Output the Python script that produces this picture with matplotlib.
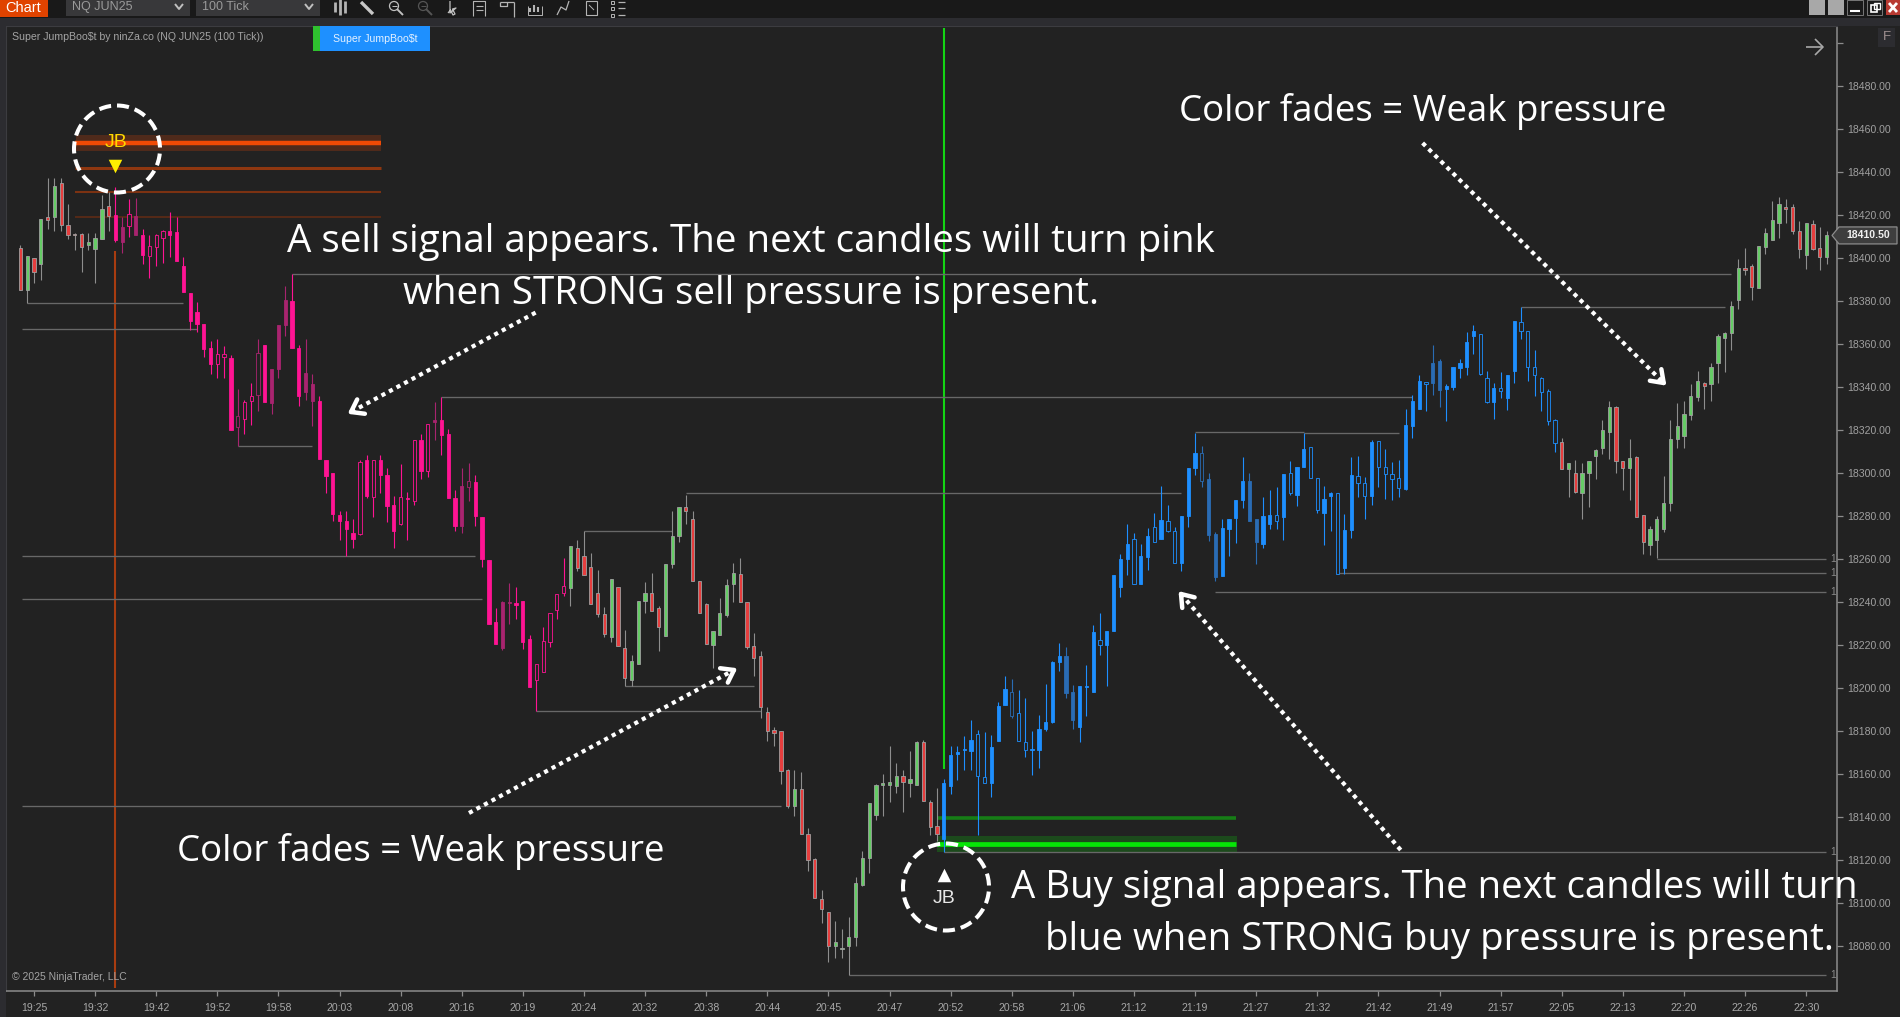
import numpy as np
import matplotlib
matplotlib.use("Agg")
import matplotlib.pyplot as plt
from matplotlib.patches import Rectangle, Ellipse, Polygon

W, H = 1900, 1017
BG = "#222222"
UI = ["Liberation Sans", "DejaVu Sans"]
CAP = ["Open Sans", "DejaVu Sans"]

opens = [
    18404.5,18385,18400,18397,18419,18419,18435,18415.5,18411,18411,
    18406,18404,18409,18424,18420,18414.5,18415,18419.5,18410.5,18401,
    18405,18409.5,18412.5,18412,18396.5,18383.5,18375,18369.5,18358,18350.5,
    18354,18353.5,18321.5,18325,18333.5,18336.5,18359.5,18348.5,18369,18380.5,
    18380,18358,18346.5,18341.5,18333.5,18306,18300,18280.5,18277.5,18272,
    18271.5,18306,18289,18306,18299,18285,18276.5,18288.5,18287,18315.5,
    18301,18324.5,18324.5,18318,18288.5,18294,18293.5,18296,18279.5,18259.5,
    18230.5,18240,18240,18239.5,18240.5,18223,18203.5,18207.5,18221.5,18236.5,
    18244,18246.5,18265,18261.5,18256.5,18244,18234.5,18223.5,18247,18218.5,
    18203.5,18211,18240.5,18244,18237,18224,18257.5,18270.5,18284,18278.5,
    18250,18239,18220,18224.5,18234,18248.5,18253,18240,18219.5,18215,
    18189,18180.5,18180,18162,18145,18153,18132,18120.5,18102,18096,
    18080,18078.5,18080,18084,18108.5,18121,18141,18155,18155,18154.5,
    18159,18156,18155,18175,18147,18136,18130,18154.5,18169.5,18171,
    18170.5,18178.5,18158.5,18156,18175.5,18192,18198,18188.5,18175,18171,
    18171,18181,18184,18212,18197.5,18185,18182,18200.5,18198,18222.5,
    18220,18226.5,18247,18260,18269.5,18248.5,18261,18275,18269.5,18277.5,
    18273,18258,18280,18302.5,18309.5,18271,18251.5,18252,18274,18279,
    18287.5,18277.5,18268,18267,18276.5,18280.5,18279.5,18300,18290,18303,
    18312,18297.5,18281.5,18289.5,18290.5,18256,18273.5,18298.5,18295.5,18289.5,
    18315,18303,18299.5,18297.5,18292.5,18322,18330,18342,18342,18338.5,
    18339,18340,18349,18349.5,18363.5,18364.5,18344,18333,18339.5,18335,
    18347.5,18370,18366,18349.5,18344,18338,18324.5,18314.5,18302,18300,
    18290.5,18300,18308,18311.5,18319,18330.5,18305.5,18302.5,18307.5,18280.5,
    18266.5,18269,18274,18286,18316,18317,18327,18335.5,18342,18341.5,
    18351,18363,18365,18380.5,18395.5,18396.5,18386,18405,18408.5,18416.5,
    18423.5,18423.5,18412.5,18401.5,18416,18404.5,18400.5,
]
closes = [
    18385,18401,18393.5,18418,18417.5,18433.5,18415.5,18410.5,18410.5,18405,
    18407.5,18409.5,18423,18419.5,18408.5,18407.5,18420.5,18410.5,18401.5,18405.5,
    18410.5,18412.5,18410.5,18398.5,18384,18370.5,18369.5,18357.5,18350.5,18355.5,
    18355.5,18320,18326.5,18333,18336,18356,18333,18332.5,18348.5,18369,
    18358,18336,18337.5,18333.5,18306.5,18298.5,18281,18277.5,18274,18269.5,
    18305,18289.5,18306,18299,18284.5,18273,18289,18288,18315.5,18301,
    18323,18323.5,18317.5,18288.5,18275.5,18275.5,18296.5,18280,18260,18230,
    18220.5,18218.5,18239.5,18238.5,18221.5,18200.5,18211,18222,18235,18243.5,
    18247.5,18266,18256,18252.5,18239,18234.5,18225,18250.5,18219.5,18204.5,
    18212.5,18240.5,18244,18236,18228.5,18257.5,18270.5,18284,18282.5,18250,
    18235,18220.5,18226.5,18235,18248,18253.5,18240,18219,18214,18191,
    18180,18179,18161.5,18145,18153,18132,18120,18102.5,18097,18080,
    18082,18079,18084,18109.5,18121,18146.5,18155,18155.5,18156.5,18159,
    18156.5,18157.5,18175,18147.5,18135.5,18132,18156,18169,18170,18171.5,
    18176,18159,18156,18172.5,18191.5,18199.5,18187,18175.5,18171,18171.5,
    18181,18184,18212,18215,18215,18198,18201,18201,18226,18220,
    18226.5,18252.5,18260,18267,18248.5,18261.5,18270.5,18268,18278,18273,
    18258,18280,18302.5,18309.5,18296.5,18297,18271.5,18274.5,18278.5,18287.5,
    18296.5,18296.5,18278.5,18280,18280.5,18277.5,18299.5,18290.5,18303,18311,
    18297.5,18283,18288,18290.5,18253,18273.5,18299,18295.5,18289.5,18314.5,
    18303,18299.5,18297,18293,18322.5,18333.5,18343,18341.5,18351,18352,
    18340.5,18349.5,18351,18361,18366,18346,18333,18339.5,18338,18345.5,
    18370.5,18366,18349.5,18345.5,18337.5,18324,18314,18302,18304.5,18291,
    18300,18305.5,18310.5,18320,18330.5,18305.5,18302.5,18307,18279.5,18268,
    18274,18278.5,18286,18316,18322,18327.5,18336,18343,18340.5,18349.5,
    18363.5,18365,18377.5,18395.5,18394.5,18386.5,18405.5,18411.5,18417.5,18425,
    18423,18412.5,18404,18416.5,18404,18400.5,18410.5,
]
highs = [
    18406,18401,18400,18418,18437,18437,18437,18425,18411.5,18411.5,
    18411.5,18411.5,18429.5,18430.5,18433,18419,18427.5,18428,18413.5,18410.5,
    18411,18413,18421.5,18419,18400.5,18383.5,18379.5,18369.5,18361.5,18362.5,
    18359,18355,18339,18334,18342,18362.5,18359.5,18348.5,18369,18387,
    18392.5,18359.5,18362.5,18346,18336,18306,18300,18282.5,18282.5,18278.5,
    18306,18308.5,18306,18308.5,18302.5,18289.5,18304,18291,18315.5,18318,
    18323,18333,18335.5,18320.5,18292,18302.5,18304.5,18299,18279.5,18259.5,
    18237,18240.5,18249,18247,18240.5,18224.5,18211,18228.5,18235,18243.5,
    18260.5,18266,18269,18273,18263,18255,18237.5,18250.5,18247,18227,
    18215.5,18240.5,18249.5,18253.5,18238,18257.5,18282.5,18284,18290,18282.5,
    18250,18239.5,18226.5,18242,18250.5,18258,18260.5,18240,18225.5,18217,
    18191,18182,18180,18162.5,18162,18161,18135,18121,18106,18096,
    18091.5,18088,18093.5,18112,18124,18146.5,18155.5,18160,18173,18165,
    18162,18170.5,18175.5,18176,18148,18153.5,18157.5,18173,18173,18177.5,
    18185,18180.5,18179.5,18178,18193.5,18205.5,18204,18199,18195.5,18180,
    18187.5,18202,18212.5,18221,18219,18201.5,18201,18210.5,18229.5,18235,
    18226.5,18252.5,18262.5,18276.5,18272,18267,18274.5,18281.5,18294,18285,
    18275,18280,18302.5,18318.5,18312.5,18300,18272.5,18278.5,18278.5,18287.5,
    18307.5,18300,18278.5,18289,18292,18293.5,18299.5,18305.5,18303,18318.5,
    18312,18297.5,18294,18291,18290.5,18281,18307.5,18308,18298,18315.5,
    18315,18311,18305,18306,18330,18336.5,18345.5,18342,18359.5,18353,
    18341.5,18349.5,18353,18365.5,18369,18364.5,18347.5,18342,18347,18345.5,
    18370.5,18377,18366,18357,18344.5,18339,18325,18316.5,18304.5,18306,
    18304.5,18305.5,18311,18324.5,18333.5,18331,18305.5,18316,18308,18280.5,
    18275.5,18280,18298.5,18324.5,18332.5,18333.5,18341.5,18347.5,18342.5,18351,
    18364.5,18365.5,18380,18399.5,18404.5,18397,18405.5,18414,18426.5,18428.5,
    18427.5,18425,18417,18416.5,18417.5,18414.5,18412.5,
]
lows = [
    18385,18379,18388.5,18390,18413.5,18412.5,18412.5,18409,18403.5,18393.5,
    18403.5,18388.5,18409,18412.5,18407.5,18402.5,18410,18410.5,18397,18390.5,
    18396.5,18397.5,18400.5,18398.5,18384,18366.5,18365.5,18354,18346,18344,
    18344,18320,18312.5,18318,18322.5,18329,18333,18327.5,18344,18363.5,
    18358,18331,18334,18322,18306.5,18290.5,18277.5,18269,18261.5,18265,
    18271,18288.5,18279.5,18290.5,18277,18265,18276,18269,18285,18297,
    18298,18315.5,18308.5,18288.5,18273,18272,18287,18275.5,18256.5,18230,
    18220.5,18217.5,18230,18232,18218,18200.5,18189.5,18207.5,18219,18232,
    18243,18238,18254.5,18252.5,18239,18233,18223.5,18221.5,18219.5,18201,
    18201,18211,18235,18236,18217,18224,18256,18268,18276.5,18250,
    18235,18220.5,18209.5,18224.5,18233,18240,18240,18218,18205.5,18186,
    18175.5,18173,18155.5,18144,18140.5,18132,18115,18102.5,18090.5,18072.5,
    18074.5,18074.5,18066.5,18080,18108,18114,18138.5,18140.5,18147,18151,
    18142.5,18149.5,18155,18147.5,18131.5,18129,18123.5,18150.5,18157,18162,
    18162,18131.5,18156,18149.5,18175.5,18192,18186,18175.5,18168,18159.5,
    18163,18180,18183.5,18208,18195.5,18181,18175,18187,18198,18215.5,
    18201,18226.5,18242.5,18252.5,18248.5,18248.5,18255,18268,18269.5,18272.5,
    18258,18254.5,18275,18299,18293.5,18268.5,18250,18252,18261.5,18267.5,
    18283.5,18277.5,18257.5,18265,18274,18274,18269,18290,18284.5,18303,
    18297.5,18281.5,18266.5,18273,18253,18253,18270,18289,18278.5,18285,
    18293.5,18288,18287.5,18289,18292,18316.5,18330,18329,18336.5,18330.5,
    18324,18338.5,18344,18345.5,18355.5,18345.5,18332.5,18325,18335,18329.5,
    18342,18362.5,18343,18336,18329,18322.5,18310,18302,18289,18290.5,
    18278.5,18284,18297,18309,18306.5,18300,18292,18287.5,18279.5,18262.5,
    18262,18260.5,18272.5,18282.5,18311.5,18311.5,18324.5,18333.5,18330,18333.5,
    18342,18347,18357,18376.5,18392,18380.5,18386,18402,18408.5,18409.5,
    18416.5,18411,18400,18395,18403.5,18394.5,18397.3,
]

# Bars carrying a trend colour, and the faded ones inside those stretches
sell_bars = range(14, 81)
buy_bars = range(136, 227)
faded_bars = [15, 17, 32, 35, 37, 38, 39, 42, 43, 61, 65, 66, 71, 72,
              146, 154, 155, 174, 175, 176, 181, 182, 208, 209]

# Swing levels: price, first bar, last bar
swing_levels = [18379, 18367, 18312.5, 18261.5, 18241.6, 18189.5, 18201, 18273,
                18290.5, 18392.7, 18335.5, 18318.9, 18318.5, 18244.5, 18253.3,
                18260, 18377, 18145, 18123.5, 18066.5]
swing_start = [1, 0.2, 32, 0.2, 0.2, 76, 89, 83, 98, 40, 62, 173, 189, 176, 194,
               241, 221, 0.2, 136, 122]
swing_end = [24, 26, 43, 67, 68, 109, 108, 96, 171, 252, 205, 189, 203, 265.9,
             265.9, 265.9, 251, 112, 265.9, 265.9]
open_levels = [18260, 18253.3, 18244.5, 18123.5, 18066.5]

# Signal zones
sell_zone_lines = [18453.4, 18441.9, 18430.7, 18419.2]
buy_zone_lines = [18127.4, 18139.5]
sell_signal_bar, buy_signal_bar = 14, 136

price_ticks = list(range(18080, 18481, 20))
time_labels = ["19:25", "19:32", "19:42", "19:52", "19:58", "20:03", "20:08", "20:16",
               "20:19", "20:24", "20:32", "20:38", "20:44", "20:45", "20:47", "20:52",
               "20:58", "21:06", "21:12", "21:19", "21:27", "21:32", "21:42", "21:49",
               "21:57", "22:05", "22:13", "22:20", "22:26", "22:30"]
last_price = closes[-1]

fig = plt.figure(figsize=(W / 100, H / 100), dpi=100, facecolor=BG)

left, right, top, bottom = 6, 1837, 26, 990.7
ax = fig.add_axes([left / W, (H - bottom) / H, (right - left) / W, (bottom - top) / H], facecolor=BG)
ax.set_xlim((left - 20.4) / 6.79, (right - 20.4) / 6.79)
ax.set_ylim(18480 - (bottom - 86) / 2.15, 18480 + (86 - top) / 2.15)

for side in ("top", "left"):
    ax.spines[side].set_color("#3c3c40")
    ax.spines[side].set_linewidth(0.8)
for side in ("right", "bottom"):
    ax.spines[side].set_color("#8c8c8c")
    ax.spines[side].set_linewidth(1.1)

ax.yaxis.tick_right()
ax.set_yticks(price_ticks + [18500], [f"{p:.2f}" for p in price_ticks] + [""])
ax.set_xticks([2 + 9 * k for k in range(len(time_labels))], time_labels)
ax.tick_params(axis="y", length=4.3, width=0.9, color="#8c8c8c", labelcolor="#a0a0a0",
               labelsize=7.6, pad=3)
ax.tick_params(axis="x", length=3.6, width=0.9, color="#8c8c8c", labelcolor="#a8a8a8",
               labelsize=7.6, pad=5)
for t in ax.get_xticklabels() + ax.get_yticklabels():
    t.set_fontfamily(UI)

# Signal zones
ax.axhspan(18449.8, 18457.2, xmin=(75.5 - left) / (right - left), xmax=(381 - left) / (right - left),
           color="#4f2a1b", lw=0, zorder=1)
ax.hlines(sell_zone_lines[0], 8.1, 53.1, color="#f04a05", lw=3.2, zorder=2)
ax.hlines(sell_zone_lines[1], 8.1, 53.1, color="#8f3710", lw=2.2, zorder=2)
ax.hlines(sell_zone_lines[2], 8.1, 53.1, color="#7c3212", lw=1.5, zorder=2)
ax.hlines(sell_zone_lines[3], 8.1, 53.1, color="#5a2a16", lw=1.3, zorder=2)
ax.axhspan(18123.7, 18131.2, xmin=(936.7 - left) / (right - left), xmax=(1236.7 - left) / (right - left),
           color="#1c4a1c", lw=0, zorder=1)
ax.hlines(buy_zone_lines[1], 135, 179.1, color="#167d16", lw=2.6, zorder=2)
ax.hlines(buy_zone_lines[0], 135, 179.1, color="#06e606", lw=3.4, zorder=2)

# Signal verticals
ax.vlines(sell_signal_bar, 18060.5, 18403.3, color="#a83c10", lw=1.5, zorder=2)
ax.vlines(buy_signal_bar, 18162.5, 18507, color="#14d414", lw=1.5, zorder=2)

# Swing lines
ax.hlines(swing_levels, swing_start, swing_end, color="#686868", lw=0.95, zorder=3)
for lv in open_levels:
    ax.text(266.5, lv, "1", color="#8a8a8a", fontsize=7.4, family=UI, ha="left", va="center")

# Candles
PINK, BLUE, GREEN, RED = "#ff1493", "#1e8fff", "#66cc66", "#e63e3e"
PINK_DIM, BLUE_DIM = "#a8246f", "#2a6cb4"
n = len(opens)
idx = np.arange(n)
o, c, hi, lo = map(np.array, (opens, closes, highs, lows))
faces, edges, wicks = [], [], []
for i in idx:
    faded = i in faded_bars
    up = c[i] >= o[i]
    if i in sell_bars:
        col = PINK_DIM if faded else PINK
        faces.append(BG if up else col)
        edges.append(col)
        wicks.append(col)
    elif i in buy_bars:
        col = BLUE_DIM if faded else BLUE
        faces.append(col if up else BG)
        edges.append(col)
        wicks.append(col)
    else:
        faces.append(GREEN if up else RED)
        edges.append("#a0a0a0")
        wicks.append("#8e8e8e")

ax.vlines(idx, lo, hi, colors=wicks, lw=0.8, zorder=4)
body_low = np.minimum(o, c)
body_h = np.maximum(np.abs(c - o), 0.6)
ax.bar(idx, body_h, bottom=body_low, width=0.48, color=faces, edgecolor=edges, linewidth=0.6, zorder=5)

# Signal markers on the price scale
ax.scatter([sell_signal_bar], [18443], marker="v", s=95, color="#ffee00", lw=0, zorder=6)
ax.scatter([buy_signal_bar], [18113], marker="^", s=95, color="#ffffff", lw=0, zorder=6)
ax.text(sell_signal_bar + 0.1, 18453.5, "JB", color="#ffd800", fontsize=14, family=UI,
        ha="center", va="center", zorder=6)
ax.text(buy_signal_bar, 18102, "JB", color="#e8e8e8", fontsize=14, family=UI,
        ha="center", va="center", zorder=6)

# Overlay in canvas pixels for window furniture and callouts
ov = fig.add_axes([0, 0, 1, 1], facecolor="none")
ov.set_xlim(0, W)
ov.set_ylim(H, 0)
ov.axis("off")


def box(x0, y0, x1, y1, color, **kw):
    ov.add_patch(Rectangle((x0, y0), x1 - x0, y1 - y0, facecolor=color, edgecolor=kw.pop("edge", "none"), lw=kw.pop("lw", 0), **kw))


def seg(xs, ys, color="#b4b4b4", lw=1.0, **kw):
    ov.plot(xs, ys, color=color, lw=lw, solid_capstyle=kw.pop("cap", "butt"), **kw)


# Frame and toolbar strips
box(0, 0, W, 17.5, "#191919")
box(0, 17.5, W, 25.5, "#2c2c30")
box(0, 17.5, 6, H, "#2c2c30")
box(0, 0, 47.7, 16.5, "#e04300")
ov.text(5, 7.5, "Chart", color="white", fontsize=10.5, family=UI, va="center")
for x0, x1, label in ((66, 190, "NQ JUN25"), (196, 320, "100 Tick")):
    box(x0, 0, x1, 15.5, "#38383a")
    ov.text(x0 + 6, 7, label, color="#9a9a9a", fontsize=9, family=UI, va="center")
    seg([x1 - 15, x1 - 11, x1 - 7], [4, 9, 4], color="#c0c0c0", lw=1.4)

# Toolbar glyphs
for x, hs in ((335, 5), (340, 8), (345, 6)):
    seg([x, x], [7 - hs, 7 + hs], lw=2)
seg([361, 373], [2, 14], lw=2.4, color="#c8c8c8")
for cx, col in ((394, "#c0c0c0"), (423, "#555555")):
    ov.add_patch(Ellipse((cx, 6), 9, 9, fill=False, edgecolor=col, lw=0.9))
    seg([cx - 2.5, cx + 2.5], [6, 6], color=col, lw=0.7)
    seg([cx + 3, cx + 9], [9, 15], color=col, lw=1.4)
seg([450, 450, 456, 452.5, 455, 453, 450.5, 448], [1, 13, 8, 9, 14, 15, 10, 13], color="#c0c0c0", lw=0.9)
seg([473, 473, 485, 485], [16, 1, 1, 16], lw=0.8)
for yy in (6, 10):
    seg([476, 483], [yy, yy], lw=0.8)
seg([500, 514], [2, 2], lw=0.9)
seg([500, 500, 507, 507], [2, 6, 6, 2], lw=0.9)
seg([514, 514], [2, 17], lw=0.9)
for x, hs in ((530, 4), (534, 7), (538, 5)):
    seg([x, x], [12 - hs, 12], lw=1.5)
seg([528, 528, 542, 542], [6, 15, 15, 6], lw=0.7)
seg([557, 561, 566, 569], [15, 7, 10, 1], lw=0.9)
box(586, 1, 597, 15, "none", edge="#b4b4b4", lw=0.8)
seg([589, 594], [5, 10], lw=0.7)
for yy in (2, 8, 15):
    box(611, yy - 1.5, 614, yy + 1.5, "none", edge="#b4b4b4", lw=0.7)
    seg([618, 625], [yy, yy], lw=0.9)

# Window buttons
box(1809, 0, 1825, 15, "#a8a8a8")
box(1828, 0, 1844, 15, "#a8a8a8")
box(1847, 0, 1863, 15, "#1a1a1a", edge="#777777", lw=0.7)
seg([1850, 1860], [11, 11], color="white", lw=1.5)
box(1867, 0, 1882, 15, "#1a1a1a", edge="#777777", lw=0.7)
box(1871, 5, 1877, 12, "none", edge="white", lw=1.2)
box(1874, 3, 1880, 9, "none", edge="white", lw=1.0)
box(1886, 0, 1900, 15, "#b83a32")
seg([1889, 1897], [3, 12], color="white", lw=2)
seg([1897, 1889], [3, 12], color="white", lw=2)

# Chart header
ov.text(12, 37, "Super JumpBoo\\$t by ninZa.co (NQ JUN25 (100 Tick))", color="#a4a4a4",
        fontsize=7.55, family=UI, va="center")
box(313, 26, 319.5, 50.5, "#2fc12f")
box(320, 26, 429.5, 50.5, "#1e90ff")
ov.text(375, 38.5, "Super JumpBoo\\$t", color="#e4f1ff", fontsize=7.55, family=UI, ha="center", va="center")
ov.text(12, 977, "© 2025 NinjaTrader, LLC", color="#a4a4a4", fontsize=7.5, family=UI, va="center")

# Corner controls
box(1878, 28, 1895, 47, "#2c2c30")
ov.text(1886.5, 37.5, "F", color="#a09090", fontsize=9.5, family=UI, ha="center", va="center")
seg([1806, 1823], [47, 47], color="#a8a8a8", lw=1.2)
seg([1815, 1823, 1815], [39, 47, 55], color="#a8a8a8", lw=1.2)

# Last price flag
flag_y = 86 + (18480 - last_price) * 2.15
ov.add_patch(Polygon([(1832, flag_y), (1839, flag_y - 8.5), (1897, flag_y - 8.5), (1897, flag_y + 8.5),
                      (1839, flag_y + 8.5)], facecolor="#3e3e3e", edgecolor="#8c8c8c", lw=0.9))
ov.text(1868, flag_y, f"{last_price:.2f}", color="#f0f0f0", fontsize=7.6, fontweight="bold",
        family=UI, ha="center", va="center")

# Dashed signal rings
for cx, cy in ((117, 149), (946, 887)):
    ov.add_patch(Ellipse((cx, cy), 86, 87, fill=False, edgecolor="white", lw=2.9,
                         linestyle=(0, (3.0, 1.5)), zorder=7))

# Dotted callout arrows
arrows = [((535.6, 312.6), (351, 412)),
          ((469, 813), (734, 670)),
          ((1400.7, 850), (1181, 594)),
          ((1422.6, 143), (1663.7, 383))]
for (x0, y0), (x1, y1) in arrows:
    ov.plot([x0, x1], [y0, y1], color="white", lw=3.0, linestyle=(0, (1, 1.05)), zorder=7)
    ang = np.arctan2(y0 - y1, x0 - x1)
    for da in (0.62, -0.62):
        seg([x1, x1 + 14 * np.cos(ang + da)], [y1, y1 + 14 * np.sin(ang + da)],
            color="white", lw=3.2, cap="round", zorder=7)

# Callouts
ov.text(751, 242, "A sell signal appears. The next candles will turn pink", color="white",
        fontsize=27.7, family=CAP, ha="center", va="center", zorder=8)
ov.text(751, 294, "when STRONG sell pressure is present.", color="white",
        fontsize=27.7, family=CAP, ha="center", va="center", zorder=8)
ov.text(1423, 112, "Color fades = Weak pressure", color="white",
        fontsize=26.4, family=CAP, ha="center", va="center", zorder=8)
ov.text(421, 851, "Color fades = Weak pressure", color="white",
        fontsize=26.4, family=CAP, ha="center", va="center", zorder=8)
ov.text(1434, 888, "A Buy signal appears. The next candles will turn", color="white",
        fontsize=27.6, family=CAP, ha="center", va="center", zorder=8)
ov.text(1439, 940, "blue when STRONG buy pressure is present.", color="white",
        fontsize=27.6, family=CAP, ha="center", va="center", zorder=8)

fig.savefig("out.png", dpi=100, facecolor=BG)
